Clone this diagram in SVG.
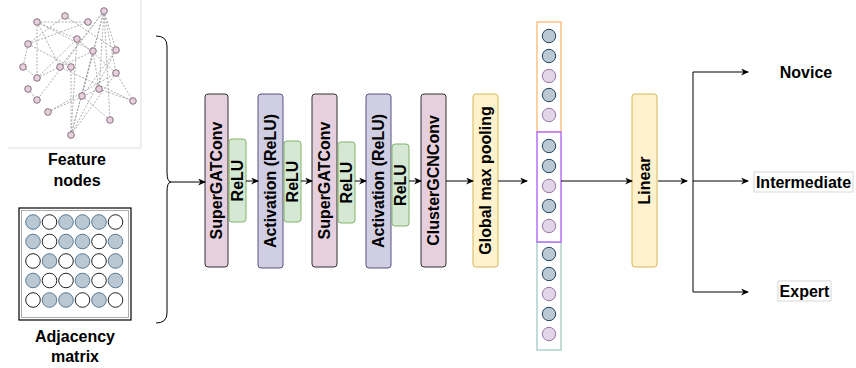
<svg xmlns="http://www.w3.org/2000/svg" width="856" height="368" viewBox="0 0 856 368">
<defs>
<marker id="ah" markerWidth="8" markerHeight="8" refX="7" refY="3.5" orient="auto" markerUnits="userSpaceOnUse">
<path d="M0,0 L8,3.5 L0,7 L2.5,3.5 z" fill="#000"/>
</marker>
</defs>
<style>
text{font-family:"Liberation Sans",Arial,sans-serif;font-weight:bold;font-size:16px;fill:#000}
.lbl{text-anchor:middle;dominant-baseline:central}
.conv{fill:#e6d0de;stroke:#333;stroke-width:1}
.act{fill:#d0cee2;stroke:#56517e;stroke-width:1}
.relu{fill:#d5e8d4;stroke:#82b366;stroke-width:1}
.yel{fill:#fff2cc;stroke:#d6b656;stroke-width:1}
.edge{stroke:#000;stroke-width:1;fill:none}
.arr{marker-end:url(#ah)}
.ge{stroke:#9a9a9a;stroke-width:0.8;stroke-dasharray:2 1.5;fill:none}
.gn{fill:#e6d0de;stroke:#8a7280;stroke-width:1}
.mf{fill:#bac8d3;stroke:#5a7a95;stroke-width:1}
.me{fill:#fff;stroke:#222;stroke-width:1}
.vb{fill:#bac8d3;stroke:#23445d;stroke-width:1}
.vp{fill:#e1d5e7;stroke:#9673a6;stroke-width:1}
</style>

<g id="feature-graph">
<path d="M8,148 H141 V0" fill="none" stroke="#ddd" stroke-width="1"/>
<g class="ge">
<path d="M37,22 L88,22"/>
<path d="M37,22 L77,39"/>
<path d="M37,22 L93,51"/>
<path d="M37,22 L60,67"/>
<path d="M37,22 L37,78"/>
<path d="M28,44 L88,22"/>
<path d="M28,44 L65,16"/>
<path d="M28,44 L23,67"/>
<path d="M28,44 L71,67"/>
<path d="M23,67 L37,78"/>
<path d="M37,78 L77,39"/>
<path d="M37,78 L93,51"/>
<path d="M65,16 L116,50"/>
<path d="M104,11 L71,135"/>
<path d="M104,11 L60,67"/>
<path d="M104,11 L82,96"/>
<path d="M104,11 L99,89"/>
<path d="M104,11 L116,73"/>
<path d="M104,11 L116,50"/>
<path d="M104,11 L110,120"/>
<path d="M104,11 L37,100"/>
<path d="M77,39 L71,135"/>
<path d="M77,39 L116,73"/>
<path d="M93,51 L71,135"/>
<path d="M93,51 L99,89"/>
<path d="M116,50 L71,135"/>
<path d="M116,50 L82,96"/>
<path d="M116,73 L71,135"/>
<path d="M116,73 L133,101"/>
<path d="M71,67 L71,135"/>
<path d="M28,89 L37,100"/>
<path d="M48,112 L99,89"/>
<path d="M48,112 L116,73"/>
<path d="M82,96 L110,120"/>
<path d="M99,89 L133,101"/>
<path d="M60,67 L133,101"/>
</g>
<g>
<circle class="gn" cx="104" cy="11" r="3.3"/>
<circle class="gn" cx="65" cy="16" r="3.3"/>
<circle class="gn" cx="37" cy="22" r="3.3"/>
<circle class="gn" cx="88" cy="22" r="3.3"/>
<circle class="gn" cx="77" cy="39" r="3.3"/>
<circle class="gn" cx="28" cy="44" r="3.3"/>
<circle class="gn" cx="93" cy="51" r="3.3"/>
<circle class="gn" cx="116" cy="50" r="3.3"/>
<circle class="gn" cx="23" cy="67" r="3.3"/>
<circle class="gn" cx="60" cy="67" r="3.3"/>
<circle class="gn" cx="71" cy="67" r="3.3"/>
<circle class="gn" cx="37" cy="78" r="3.3"/>
<circle class="gn" cx="116" cy="73" r="3.3"/>
<circle class="gn" cx="28" cy="89" r="3.3"/>
<circle class="gn" cx="99" cy="89" r="3.3"/>
<circle class="gn" cx="82" cy="96" r="3.3"/>
<circle class="gn" cx="37" cy="100" r="3.3"/>
<circle class="gn" cx="133" cy="101" r="3.3"/>
<circle class="gn" cx="48" cy="112" r="3.3"/>
<circle class="gn" cx="110" cy="120" r="3.3"/>
<circle class="gn" cx="71" cy="135" r="3.3"/>
</g>
<text x="77" y="165" text-anchor="middle">Feature</text>
<text x="77" y="186" text-anchor="middle">nodes</text>
</g>

<g id="adjacency-matrix">
<rect x="19" y="208" width="112" height="112" fill="#fff" stroke="#000" stroke-width="1.2"/>
<rect x="21.5" y="210.5" width="107" height="107" fill="none" stroke="#999" stroke-width="0.8"/>
<g>
<circle class="mf" cx="33" cy="222" r="7.3"/><circle class="me" cx="49.5" cy="222" r="7.3"/><circle class="mf" cx="66" cy="222" r="7.3"/><circle class="mf" cx="82.5" cy="222" r="7.3"/><circle class="mf" cx="99" cy="222" r="7.3"/><circle class="me" cx="115.5" cy="222" r="7.3"/>
<circle class="mf" cx="33" cy="241.5" r="7.3"/><circle class="me" cx="49.5" cy="241.5" r="7.3"/><circle class="mf" cx="66" cy="241.5" r="7.3"/><circle class="mf" cx="82.5" cy="241.5" r="7.3"/><circle class="me" cx="99" cy="241.5" r="7.3"/><circle class="mf" cx="115.5" cy="241.5" r="7.3"/>
<circle class="me" cx="33" cy="261" r="7.3"/><circle class="mf" cx="49.5" cy="261" r="7.3"/><circle class="me" cx="66" cy="261" r="7.3"/><circle class="mf" cx="82.5" cy="261" r="7.3"/><circle class="me" cx="99" cy="261" r="7.3"/><circle class="mf" cx="115.5" cy="261" r="7.3"/>
<circle class="mf" cx="33" cy="280.5" r="7.3"/><circle class="me" cx="49.5" cy="280.5" r="7.3"/><circle class="me" cx="66" cy="280.5" r="7.3"/><circle class="mf" cx="82.5" cy="280.5" r="7.3"/><circle class="me" cx="99" cy="280.5" r="7.3"/><circle class="mf" cx="115.5" cy="280.5" r="7.3"/>
<circle class="me" cx="33" cy="300" r="7.3"/><circle class="mf" cx="49.5" cy="300" r="7.3"/><circle class="mf" cx="66" cy="300" r="7.3"/><circle class="me" cx="82.5" cy="300" r="7.3"/><circle class="mf" cx="99" cy="300" r="7.3"/><circle class="me" cx="115.5" cy="300" r="7.3"/>
</g>
<text x="75" y="342" text-anchor="middle">Adjacency</text>
<text x="75" y="362" text-anchor="middle">matrix</text>
</g>

<g id="brace">
<path d="M156,36 Q167,36 167,46 V172 Q167,182 171,182 Q167,182 167,192 V313 Q167,323 156,323" fill="none" stroke="#000" stroke-width="1"/>
</g>

<g id="supergatconv-1">
<rect class="conv" x="205" y="94" width="23" height="173" rx="3"/>
<text class="lbl" transform="translate(216.5,180.5) rotate(-90)">SuperGATConv</text>
</g>
<g id="relu-1">
<rect class="relu" x="229" y="139" width="17" height="83" rx="3"/>
<text class="lbl" transform="translate(237.5,180.5) rotate(-90)">ReLU</text>
</g>
<g id="activation-1">
<rect class="act" x="258" y="94" width="25" height="174" rx="3"/>
<text class="lbl" transform="translate(270.5,181) rotate(-90)">Activation (ReLU)</text>
</g>
<g id="relu-2">
<rect class="relu" x="284" y="141" width="17" height="81" rx="3"/>
<text class="lbl" transform="translate(292.5,181.5) rotate(-90)">ReLU</text>
</g>
<g id="supergatconv-2">
<rect class="conv" x="312" y="94" width="25" height="173" rx="3"/>
<text class="lbl" transform="translate(324.5,180.5) rotate(-90)">SuperGATConv</text>
</g>
<g id="relu-3">
<rect class="relu" x="338" y="142" width="17" height="81" rx="3"/>
<text class="lbl" transform="translate(346.5,182.5) rotate(-90)">ReLU</text>
</g>
<g id="activation-2">
<rect class="act" x="366" y="94" width="25" height="174" rx="3"/>
<text class="lbl" transform="translate(378.5,181) rotate(-90)">Activation (ReLU)</text>
</g>
<g id="relu-4">
<rect class="relu" x="392" y="144" width="17" height="82" rx="3"/>
<text class="lbl" transform="translate(400.5,185) rotate(-90)">ReLU</text>
</g>
<g id="clustergcnconv">
<rect class="conv" x="421" y="94" width="25" height="173" rx="3"/>
<text class="lbl" transform="translate(433.5,180.5) rotate(-90)">ClusterGCNConv</text>
</g>
<g id="global-max-pooling">
<rect class="yel" x="473" y="94" width="25" height="173" rx="3"/>
<text class="lbl" transform="translate(485.5,180.5) rotate(-90)">Global max pooling</text>
</g>

<g id="feature-vector">
<rect x="537" y="22" width="24" height="110" fill="#fff" stroke="#ffb366" stroke-width="1.2"/>
<rect x="537" y="242" width="24" height="108" fill="#fff" stroke="#9ac7bf" stroke-width="1.2"/>
<rect x="537" y="132" width="24" height="110" fill="#fff" stroke="#a64dff" stroke-width="1.2"/>
<circle class="vb" cx="549" cy="36" r="6.7"/><circle class="vb" cx="549" cy="56" r="6.7"/><circle class="vp" cx="549" cy="76" r="6.7"/><circle class="vb" cx="549" cy="95" r="6.7"/><circle class="vp" cx="549" cy="115" r="6.7"/>
<circle class="vb" cx="549" cy="146" r="6.7"/><circle class="vb" cx="549" cy="166" r="6.7"/><circle class="vp" cx="549" cy="186" r="6.7"/><circle class="vb" cx="549" cy="206" r="6.7"/><circle class="vp" cx="549" cy="226" r="6.7"/>
<circle class="vb" cx="549" cy="254" r="6.7"/><circle class="vb" cx="549" cy="274" r="6.7"/><circle class="vp" cx="549" cy="294" r="6.7"/><circle class="vb" cx="549" cy="314" r="6.7"/><circle class="vp" cx="549" cy="334" r="6.7"/>
</g>

<g id="linear">
<rect class="yel" x="632" y="94" width="25" height="173" rx="3"/>
<text class="lbl" transform="translate(644.5,180.5) rotate(-90)">Linear</text>
</g>

<g id="outputs">
<text x="806" y="78" text-anchor="middle">Novice</text>
<rect x="754" y="172" width="99" height="20" fill="#fff" stroke="#ccc" stroke-width="0.8"/>
<text x="803.5" y="188" text-anchor="middle">Intermediate</text>
<rect x="778" y="281" width="53" height="20" fill="#fff" stroke="#ccc" stroke-width="0.8"/>
<text x="804.5" y="297" text-anchor="middle">Expert</text>
</g>

<g id="connectors">
<path class="edge arr" d="M171,182 H205"/>
<path class="edge arr" d="M246,181 H258"/>
<path class="edge arr" d="M301,181 H312"/>
<path class="edge arr" d="M355,181 H366"/>
<path class="edge arr" d="M409,181 H421"/>
<path class="edge arr" d="M446,181 H473"/>
<path class="edge arr" d="M498,181 H527"/>
<path class="edge arr" d="M561,181 H632"/>
<path class="edge arr" d="M658,181 H687"/>
<path class="edge" d="M693,72 V292"/>
<path class="edge arr" d="M693,72 H748"/>
<path class="edge arr" d="M693,181 H748"/>
<path class="edge arr" d="M693,292 H748"/>
</g>
</svg>
